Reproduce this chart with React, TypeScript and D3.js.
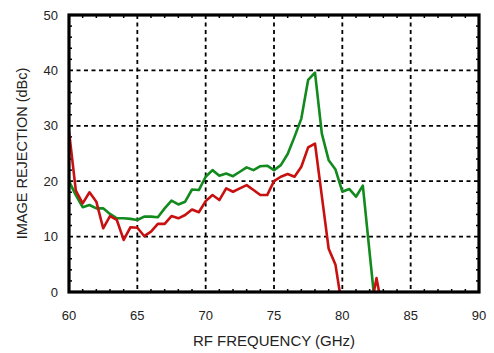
import React from "react";
import * as d3 from "d3";

const freqs = [60, 60.5, 61, 61.5, 62, 62.5, 63, 63.5, 64, 64.5, 65, 65.5, 66, 66.5, 67, 67.5, 68, 68.5, 69, 69.5, 70, 70.5, 71, 71.5, 72, 72.5, 73, 73.5, 74, 74.5, 75, 75.5, 76, 76.5, 77, 77.5, 78, 78.5, 79, 79.5, 80, 80.5, 81, 81.5, 82, 82.5, 83];
const greenValues = [20, 17.5, 15.3, 15.7, 15.1, 15.1, 14.1, 13.3, 13.3, 13.2, 13.0, 13.6, 13.6, 13.5, 15.1, 16.5, 15.8, 16.3, 18.5, 18.4, 20.8, 22.0, 21.0, 21.4, 20.9, 21.7, 22.5, 22.0, 22.7, 22.8, 22.0, 22.9, 24.9, 28.0, 31.3, 38.3, 39.6, 28.6, 23.8, 22.1, 18.1, 18.6, 17.2, 19.2, 7, -5, -8];
const redValues = [29, 18.3, 16.0, 18.0, 16.3, 11.5, 13.7, 13.0, 9.4, 11.7, 11.6, 10.1, 10.9, 12.3, 12.3, 13.7, 13.3, 13.9, 14.9, 14.4, 16.4, 17.5, 16.6, 18.7, 18.1, 18.7, 19.3, 18.4, 17.5, 17.5, 20.0, 20.8, 21.3, 20.8, 22.6, 26.1, 26.8, 17.3, 7.8, 4.9, -3, -5, -5, -5, -4, 2.5, -4];

const xTicks = [60, 65, 70, 75, 80, 85, 90];
const yTicks = [0, 10, 20, 30, 40, 50];
const xTitle = "RF FREQUENCY (GHz)";
const yTitle = "IMAGE REJECTION (dBc)";

const W = 494, H = 353;
const L = 69, R = 479, T = 15, B = 292;

export default function App() {
  const x = d3.scaleLinear().domain([60, 90]).range([L, R]);
  const y = d3.scaleLinear().domain([0, 50]).range([B, T]);
  const line = d3.line<number>().x((_, i) => x(freqs[i])).y((v) => y(v));
  const xMinor = d3.range(61, 90, 1).filter((v) => v % 5 !== 0);
  const yMinor = d3.range(2, 50, 2).filter((v) => v % 10 !== 0);
  const font = "'Liberation Sans', Arial, Helvetica, sans-serif";
  const tl = 3;
  return (
    <svg width={W} height={H} style={{ position: "absolute", left: 0, top: 0, background: "#fff" }}>
      <defs>
        <clipPath id="plotclip">
          <rect x={L} y={T} width={R - L} height={B - T} />
        </clipPath>
      </defs>
      {/* grid */}
      <g stroke="#000" strokeWidth={1.8} strokeDasharray="4,3.5">
        {xTicks.slice(1, -1).map((t) => (
          <line key={"gx" + t} x1={x(t)} x2={x(t)} y1={T} y2={B} />
        ))}
        {yTicks.slice(1, -1).map((t) => (
          <line key={"gy" + t} x1={L} x2={R} y1={y(t)} y2={y(t)} />
        ))}
      </g>
      {/* minor ticks */}
      <g stroke="#000" strokeWidth={1.5}>
        {xMinor.map((t) => (
          <g key={"mx" + t}>
            <line x1={x(t)} x2={x(t)} y1={B} y2={B - tl} />
            <line x1={x(t)} x2={x(t)} y1={T} y2={T + tl} />
          </g>
        ))}
        {yMinor.map((t) => (
          <g key={"my" + t}>
            <line x1={L} x2={L + tl} y1={y(t)} y2={y(t)} />
            <line x1={R} x2={R - tl} y1={y(t)} y2={y(t)} />
          </g>
        ))}
      </g>
      <g clipPath="url(#plotclip)" fill="none" strokeWidth={2.6} strokeLinejoin="round">
        <path d={line(greenValues) || ""} stroke="#128a1e" />
        <path d={line(redValues) || ""} stroke="#c81010" />
      </g>
      <rect x={L} y={T} width={R - L} height={B - T} fill="none" stroke="#000" strokeWidth={3.2} />
      <g fontFamily={font} fontSize={13} fill="#222">
        {xTicks.map((t) => (
          <text key={"xl" + t} x={x(t)} y={320} textAnchor="middle">{t}</text>
        ))}
        {yTicks.map((t) => (
          <text key={"yl" + t} x={58} y={y(t) + 4.5} textAnchor="end">{t}</text>
        ))}
      </g>
      <text x={(L + R) / 2} y={346} textAnchor="middle" fontFamily={font} fontSize={15} fill="#222">{xTitle}</text>
      <text transform={`translate(27, ${(T + B) / 2}) rotate(-90)`} textAnchor="middle" fontFamily={font} fontSize={14.5} fill="#222">{yTitle}</text>
    </svg>
  );
}
